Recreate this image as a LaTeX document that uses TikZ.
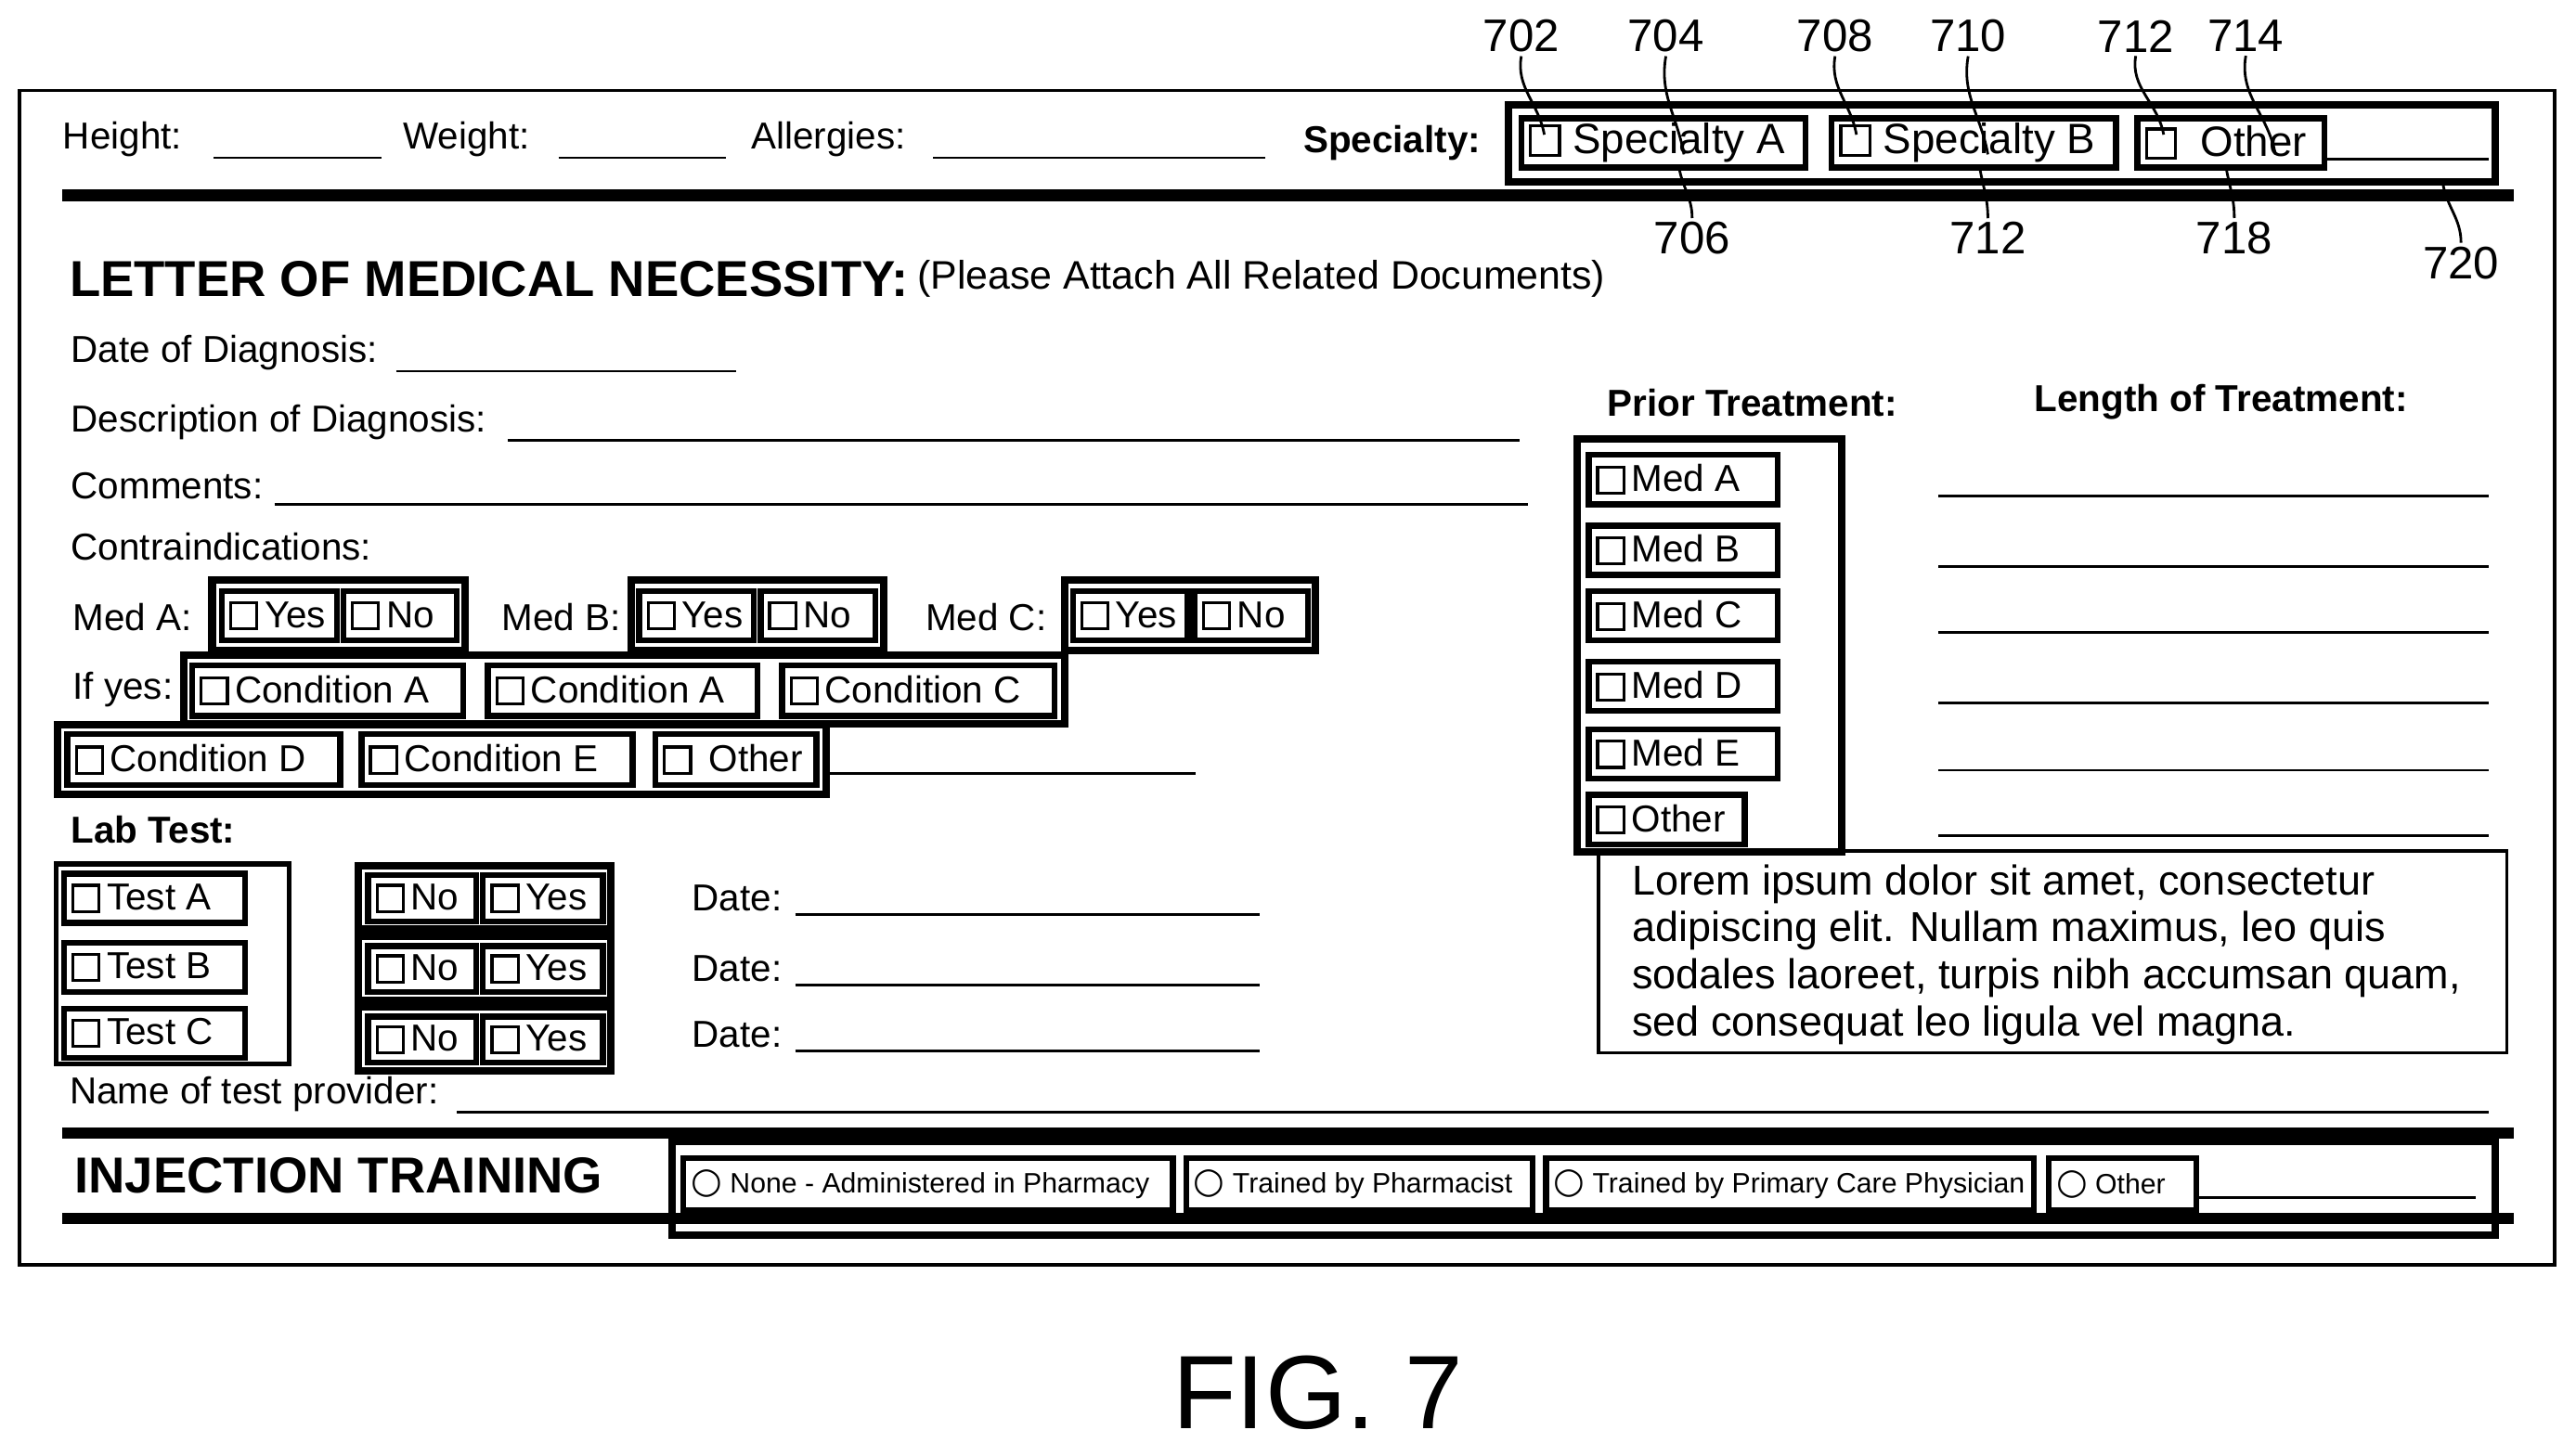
\documentclass[tikz,border=0pt]{standalone}
\usepackage{fontspec}
\setmainfont{Liberation Sans}
\newfontfamily\djvfont{DejaVu Sans}
\newcommand\cbx{{\setlength\fboxsep{0pt}\setlength\fboxrule{0.9pt}\fbox{\rule{0pt}{0.62em}\rule{0.62em}{0pt}}}}
\newcommand\rbx{{\djvfont\fontsize{11}{11}\selectfont\char"25CB}}
\newcommand\ob[6]{%
 \pgfmathsetmacro\ww{(#4-#2)*0.0177}\pgfmathsetmacro\hh{(#5-#3)*0.0177}%
 \node[obox,minimum width=\ww cm,minimum height=\hh cm] (#1) at ({(#2+#4)/2},{(#3+#5)/2}) {};%
 \node[anchor=west,inner sep=0pt] (#1t) at ([xshift=3pt]#1.west) {#6};}
\newcommand\gb[5]{%
 \pgfmathsetmacro\ww{(#4-#2)*0.0177}\pgfmathsetmacro\hh{(#5-#3)*0.0177}%
 \node[gbox,minimum width=\ww cm,minimum height=\hh cm] (#1) at ({(#2+#4)/2},{(#3+#5)/2}) {};%
 \draw[line width=0.6pt] ([shift={(2pt,-2pt)}]#1.north west) rectangle ([shift={(-2pt,2pt)}]#1.south east);}
\tikzset{
 obox/.style={draw,line width=1.8pt,inner sep=0pt},
 gbox/.style={draw,line width=2.2pt,inner sep=0pt},
 lbl/.style={anchor=west,inner sep=0pt,font=\fontsize{11.5}{13}\selectfont},
 blank/.style={line width=0.8pt},
 rule/.style={line width=3.5pt},
 num/.style={font=\fontsize{14}{16}\selectfont,inner sep=1pt},
 lead/.style={line width=0.8pt}
}
\begin{document}
\begin{tikzpicture}[x=0.0177cm,y=-0.0177cm,every node/.style={font=\fontsize{11.5}{13}\selectfont}]
\useasboundingbox (0,0) rectangle (1568,886);
\draw[line width=1pt] (12,55) rectangle (1555,770);
% top row
\node[lbl] (h) at (38,85) {Height:};
\coordinate (h1) at (130,96); \coordinate (h2) at (232,96); \draw[blank] (h1)--(h2);
\node[lbl] (w) at (245,85) {Weight:};
\coordinate (w1) at (340,96); \coordinate (w2) at (442,96); \draw[blank] (w1)--(w2);
\node[lbl] (al) at (457,85) {Allergies:};
\coordinate (a1) at (568,96); \coordinate (a2) at (770,96); \draw[blank] (a1)--(a2);
\node[lbl,font=\fontsize{11.5}{13}\selectfont\bfseries] (sp) at (793,87) {Specialty:};
\gb{spg}{918}{64}{1519}{111}
\begin{scope}[every node/.style={font=\fontsize{13}{15}\selectfont}]
\ob{spa}{926}{72}{1099}{102}{\cbx\ Specialty A}
\ob{spb}{1115}{72}{1288}{102}{\cbx\ Specialty B}
\ob{spo}{1301}{72}{1415}{102}{\cbx\ \ Other}
\end{scope}
\coordinate (so1) at (1415,97); \coordinate (so2) at (1515,97); \draw[blank] (so1)--(so2);
\coordinate (r1a) at (38,119); \coordinate (r1b) at (1530,119); \draw[rule] (r1a)--(r1b);
% reference numerals
\node[num] (n702) at (926,22) {702};
\node[num] (n704) at (1014,22) {704};
\node[num] (n708) at (1117,22) {708};
\node[num] (n710) at (1198,22) {710};
\node[num] (n712a) at (1300,22) {712};
\node[num] (n714) at (1367,22) {714};
\node[num] (n706) at (1030,145) {706};
\node[num] (n712b) at (1210,145) {712};
\node[num] (n718) at (1360,145) {718};
\node[num] (n720) at (1498,160) {720};
\coordinate (t702) at (940,82); \coordinate (t704) at (1025,94);
\coordinate (t708) at (1130,82); \coordinate (t710) at (1210,94);
\coordinate (t712) at (1317,82); \coordinate (t714) at (1385,94);
\coordinate (t706) at (1022,102); \coordinate (t712b) at (1205,102);
\coordinate (t718) at (1355,102); \coordinate (t720) at (1487,112);
\draw[lead] (n702.south) to[out=-100,in=100] (t702);
\draw[lead] (n704.south) to[out=-100,in=100] (t704);
\draw[lead] (n708.south) to[out=-100,in=100] (t708);
\draw[lead] (n710.south) to[out=-100,in=100] (t710);
\draw[lead] (n712a.south) to[out=-100,in=100] (t712);
\draw[lead] (n714.south) to[out=-100,in=100] (t714);
\draw[lead] (n706.north) to[out=90,in=-80] (t706);
\draw[lead] (n712b.north) to[out=90,in=-80] (t712b);
\draw[lead] (n718.north) to[out=90,in=-80] (t718);
\draw[lead] (n720.north) to[out=90,in=-80] (t720);
% letter
\node[anchor=west,inner sep=0pt,font=\fontsize{15.5}{17}\selectfont\bfseries] (ttl) at (42,170) {LETTER OF MEDICAL NECESSITY:};
\node[lbl,font=\fontsize{12.2}{14}\selectfont] (ttl2) at (558,170) {(Please Attach All Related Documents)};
\node[lbl] (dd) at (43,215) {Date of Diagnosis:};
\coordinate (dd1) at (241,226); \coordinate (dd2) at (448,226); \draw[blank] (dd1)--(dd2);
\node[lbl] (desc) at (43,257) {Description of Diagnosis:};
\coordinate (de1) at (309,268); \coordinate (de2) at (925,268); \draw[blank] (de1)--(de2);
\node[lbl] (com) at (43,296) {Comments:};
\coordinate (c1) at (167,307); \coordinate (c2) at (930,307); \draw[blank] (c1)--(c2);
\node[lbl] (ci) at (43,333) {Contraindications:};
\node[lbl] (ma) at (44,376) {Med A:};
\gb{mag}{129}{353}{283}{396}
\ob{may}{135}{360}{205}{390}{\cbx\,Yes}
\ob{man}{209}{360}{278}{390}{\cbx\,No}
\node[lbl] (mb) at (305,376) {Med B:};
\gb{mbg}{384}{353}{538}{396}
\ob{mby}{389}{360}{459}{390}{\cbx\,Yes}
\ob{mbn}{463}{360}{533}{390}{\cbx\,No}
\node[lbl] (mc) at (563,376) {Med C:};
\gb{mcg}{648}{353}{801}{396}
\ob{mcy}{653}{360}{723}{390}{\cbx\,Yes}
\ob{mcn}{727}{360}{796}{390}{\cbx\,No}
\node[lbl] (iy) at (44,420) {If yes:};
\gb{cg1}{112}{399}{648}{441}
\ob{ca}{117}{405}{282}{436}{\cbx\,Condition A}
\ob{ca2}{297}{405}{461}{436}{\cbx\,Condition A}
\ob{cc}{476}{405}{642}{436}{\cbx\,Condition C}
\gb{cg2}{35}{441}{503}{484}
\ob{cd}{41}{447}{207}{478}{\cbx\,Condition D}
\ob{ce}{220}{447}{385}{478}{\cbx\,Condition E}
\ob{co}{399}{447}{497}{478}{\cbx\ \,Other}
\coordinate (co1) at (503,471); \coordinate (co2) at (728,471); \draw[blank] (co1)--(co2);
\node[lbl,font=\fontsize{11.5}{13}\selectfont\bfseries] (lt) at (43,505) {Lab Test:};
\node[draw,line width=1.5pt,minimum width={142*0.0177cm},minimum height={122*0.0177cm},inner sep=0pt] (tg) at (105,587) {};
\ob{ta}{39}{532}{149}{562}{\cbx\,Test A}
\ob{tb}{39}{574}{149}{604}{\cbx\,Test B}
\ob{tc}{39}{614}{149}{644}{\cbx\,Test C}
\gb{ng1}{218}{527}{372}{566}
\ob{n1}{224}{533}{290}{561}{\cbx\,No}
\ob{y1}{294}{533}{367}{561}{\cbx\,Yes}
\gb{ng2}{218}{570}{372}{609}
\ob{n2}{224}{576}{290}{604}{\cbx\,No}
\ob{y2}{294}{576}{367}{604}{\cbx\,Yes}
\gb{ng3}{218}{613}{372}{652}
\ob{n3}{224}{619}{290}{647}{\cbx\,No}
\ob{y3}{294}{619}{367}{647}{\cbx\,Yes}
\node[lbl] (d1) at (421,547) {Date:};
\node[lbl] (d2) at (421,590) {Date:};
\node[lbl] (d3) at (421,630) {Date:};
\coordinate (d1a) at (484,557); \coordinate (d1b) at (767,557); \draw[blank] (d1a)--(d1b);
\coordinate (d2a) at (484,600); \coordinate (d2b) at (767,600); \draw[blank] (d2a)--(d2b);
\coordinate (d3a) at (484,640); \coordinate (d3b) at (767,640); \draw[blank] (d3a)--(d3b);
\node[lbl] (tp) at (42,666) {Name of test provider:};
\coordinate (tp1) at (278,677); \coordinate (tp2) at (1515,677); \draw[blank] (tp1)--(tp2);
% prior treatment
\node[lbl,font=\fontsize{11.5}{13}\selectfont\bfseries] (pt) at (978,245) {Prior Treatment:};
\node[lbl,font=\fontsize{11.5}{13}\selectfont\bfseries] (lot) at (1238,245) {Length of Treatment:};
\gb{pg}{960}{267}{1121}{519}
\ob{pa}{967}{277}{1082}{307}{\cbx\,Med A}
\ob{pb}{967}{320}{1082}{350}{\cbx\,Med B}
\ob{pc}{967}{360}{1082}{390}{\cbx\,Med C}
\ob{pd}{967}{403}{1082}{433}{\cbx\,Med D}
\ob{pe}{967}{444}{1082}{474}{\cbx\,Med E}
\ob{po}{967}{484}{1062}{514}{\cbx\,Other}
\foreach \yy [count=\i] in {302,345,385,428,469,509}{
 \coordinate (l\i a) at (1180,\yy); \coordinate (l\i b) at (1515,\yy); \draw[blank] (l\i a)--(l\i b);}
\node[draw,line width=1pt,minimum width={553*0.0177cm},minimum height={123*0.0177cm},inner sep=0pt] (lor) at (1249.5,579.5) {};
\node[anchor=north west,inner sep=0pt,align=left,font=\fontsize{12.8}{14.4}\selectfont] (lort) at (993,526) {Lorem ipsum dolor sit amet, consectetur\\adipiscing elit. Nullam maximus, leo quis\\sodales laoreet, turpis nibh accumsan quam,\\sed consequat leo ligula vel magna.};
% injection
\coordinate (r2a) at (38,690); \coordinate (r2b) at (1530,690); \draw[rule] (r2a)--(r2b);
\coordinate (r3a) at (38,742); \coordinate (r3b) at (1530,742); \draw[rule] (r3a)--(r3b);
\node[anchor=west,inner sep=0pt,font=\fontsize{15.5}{17}\selectfont\bfseries] (inj) at (45,716) {INJECTION TRAINING};
\gb{ig}{409}{695}{1519}{752}
\begin{scope}[every node/.style={font=\fontsize{8.6}{10}\selectfont}]
\ob{i1}{416}{705}{714}{737}{\rbx\ None - Administered in Pharmacy}
\ob{i2}{722}{705}{933}{737}{\rbx\ Trained by Pharmacist}
\ob{i3}{941}{705}{1238}{737}{\rbx\ Trained by Primary Care Physician}
\ob{i4}{1247}{705}{1337}{737}{\rbx\ Other}
\end{scope}
\coordinate (io1) at (1337,729); \coordinate (io2) at (1507,729); \draw[blank] (io1)--(io2);
\node[font=\fontsize{32}{36}\selectfont] (fig) at (802,848) {FIG. 7};
\end{tikzpicture}
\end{document}
